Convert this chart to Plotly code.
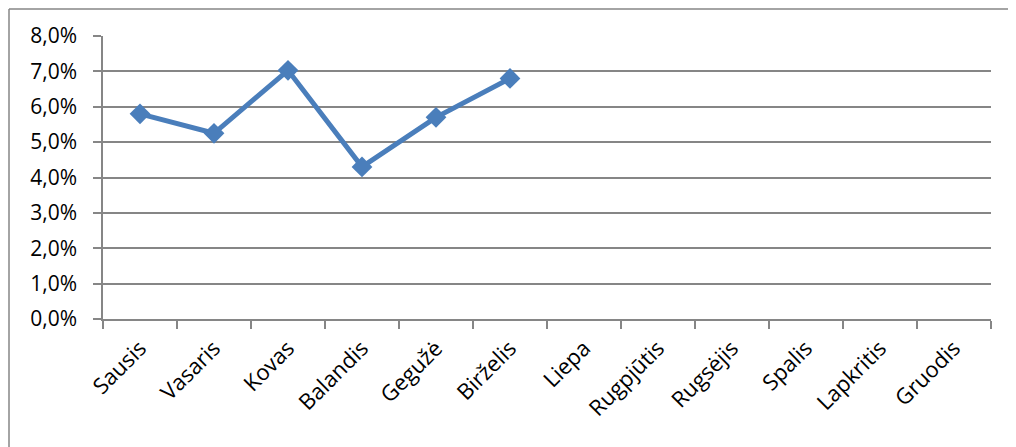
import plotly.graph_objects as go

months = ["Sausis", "Vasaris", "Kovas", "Balandis", "Gegužė", "Birželis",
          "Liepa", "Rugpjūtis", "Rugsėjis", "Spalis", "Lapkritis", "Gruodis"]
values = [0.058, 0.0525, 0.0703, 0.043, 0.057, 0.068]

# page body has an 8px margin, so the figure is sized/offset to compensate
OFF = 8
W, H = 1016 - OFF, 447 - OFF
L, T = 103 - OFF, 36 - OFF
pw, ph = 888, 283
R, B = W - L - pw, H - T - ph

grid = "#868686"
font = dict(family="Open Sans, DejaVu Sans, sans-serif", size=21, color="#000000")
xfont = dict(family="Open Sans, DejaVu Sans, sans-serif", size=22, color="#000000")

fig = go.Figure()
fig.add_trace(go.Scatter(
    x=months[:len(values)], y=values, mode="lines+markers",
    line=dict(color="#4A7EBB", width=5),
    marker=dict(symbol="diamond", size=16, color="#4A7EBB"),
    showlegend=False, cliponaxis=False,
))

fig.update_layout(
    width=W, height=H,
    margin=dict(l=L, r=R, t=T, b=B, autoexpand=False),
    paper_bgcolor="white", plot_bgcolor="white",
    separators=",.",
    font=font,
    xaxis=dict(
        type="category", categoryorder="array", categoryarray=months,
        range=[-0.5, 11.5], tickangle=-45, tickson="boundaries",
        ticks="outside", ticklen=8, tickcolor=grid, tickwidth=1.5,
        showline=True, linecolor=grid, linewidth=1.5,
        showgrid=False, tickfont=xfont, automargin=False,
        ticklabelstandoff=6,
    ),
    yaxis=dict(
        range=[0, 0.08], tick0=0, dtick=0.01, tickformat=".1%",
        showgrid=True, gridcolor=grid, gridwidth=1.5,
        ticks="outside", ticklen=8, tickcolor=grid, tickwidth=1.5,
        showline=True, linecolor=grid, linewidth=1.5,
        zeroline=False, tickfont=font, ticklabelstandoff=12,
        automargin=False,
    ),
    shapes=[
        dict(type="line", xref="paper", yref="paper",
             x0=(1 - L) / pw, x1=(W + 5 - L) / pw,
             y0=(H - B - 1) / ph, y1=(H - B - 1) / ph,
             line=dict(color=grid, width=1.5)),
        dict(type="line", xref="paper", yref="paper",
             x0=(1 - L) / pw, x1=(1 - L) / pw,
             y0=(H - B - 1) / ph, y1=-(B + 5) / ph,
             line=dict(color=grid, width=1.5)),
    ],
)

fig.write_html("out.html")
